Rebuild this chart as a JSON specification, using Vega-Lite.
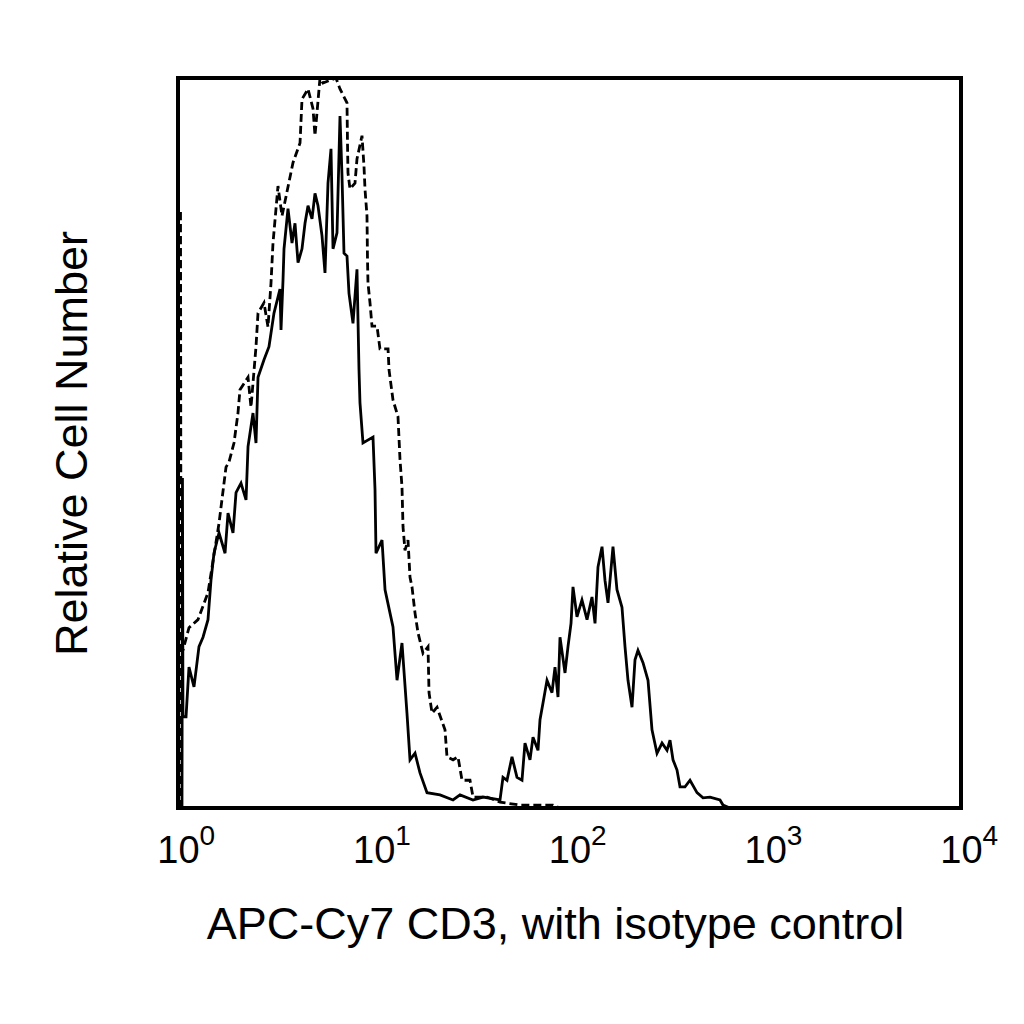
{
  "$schema": "https://vega.github.io/schema/vega-lite/v6.json",
  "autosize": "none",
  "padding": {"left": 178, "top": 78, "right": 63, "bottom": 216},
  "width": 783,
  "height": 730,
  "background": "white",
  "config": {
    "font": "Liberation Sans",
    "view": {"stroke": "black", "strokeWidth": 4}
  },
  "datasets": {
    "hist": [
      {"s": "CD3", "x": 1.048, "y": 0},
      {"s": "CD3", "x": 1.054, "y": 45.2},
      {"s": "CD3", "x": 1.060, "y": 12.5},
      {"s": "CD3", "x": 1.099, "y": 12.5},
      {"s": "CD3", "x": 1.138, "y": 19.3},
      {"s": "CD3", "x": 1.207, "y": 16.6},
      {"s": "CD3", "x": 1.280, "y": 22.1},
      {"s": "CD3", "x": 1.342, "y": 23.4},
      {"s": "CD3", "x": 1.423, "y": 25.8},
      {"s": "CD3", "x": 1.474, "y": 31.2},
      {"s": "CD3", "x": 1.527, "y": 34.9},
      {"s": "CD3", "x": 1.620, "y": 37.7},
      {"s": "CD3", "x": 1.739, "y": 34.9},
      {"s": "CD3", "x": 1.801, "y": 40.4},
      {"s": "CD3", "x": 1.910, "y": 37.7},
      {"s": "CD3", "x": 1.979, "y": 43.2},
      {"s": "CD3", "x": 2.098, "y": 44.5},
      {"s": "CD3", "x": 2.226, "y": 42.2},
      {"s": "CD3", "x": 2.279, "y": 49.5},
      {"s": "CD3", "x": 2.416, "y": 54.1},
      {"s": "CD3", "x": 2.503, "y": 50.0},
      {"s": "CD3", "x": 2.563, "y": 59.0},
      {"s": "CD3", "x": 2.750, "y": 61.4},
      {"s": "CD3", "x": 2.916, "y": 63.2},
      {"s": "CD3", "x": 3.093, "y": 67.8},
      {"s": "CD3", "x": 3.242, "y": 70.0},
      {"s": "CD3", "x": 3.319, "y": 71.1},
      {"s": "CD3", "x": 3.359, "y": 65.5},
      {"s": "CD3", "x": 3.439, "y": 72.3},
      {"s": "CD3", "x": 3.480, "y": 76.6},
      {"s": "CD3", "x": 3.647, "y": 82.1},
      {"s": "CD3", "x": 3.823, "y": 77.4},
      {"s": "CD3", "x": 3.960, "y": 80.1},
      {"s": "CD3", "x": 4.103, "y": 74.7},
      {"s": "CD3", "x": 4.300, "y": 76.6},
      {"s": "CD3", "x": 4.455, "y": 80.1},
      {"s": "CD3", "x": 4.615, "y": 82.5},
      {"s": "CD3", "x": 4.837, "y": 80.7},
      {"s": "CD3", "x": 5.010, "y": 84.2},
      {"s": "CD3", "x": 5.190, "y": 82.5},
      {"s": "CD3", "x": 5.440, "y": 78.4},
      {"s": "CD3", "x": 5.636, "y": 73.3},
      {"s": "CD3", "x": 5.838, "y": 85.6},
      {"s": "CD3", "x": 6.048, "y": 90.3},
      {"s": "CD3", "x": 6.192, "y": 76.6},
      {"s": "CD3", "x": 6.490, "y": 78.8},
      {"s": "CD3", "x": 6.723, "y": 94.8},
      {"s": "CD3", "x": 6.883, "y": 86.6},
      {"s": "CD3", "x": 7.047, "y": 76.0},
      {"s": "CD3", "x": 7.300, "y": 75.6},
      {"s": "CD3", "x": 7.474, "y": 70.5},
      {"s": "CD3", "x": 7.834, "y": 66.4},
      {"s": "CD3", "x": 8.210, "y": 73.8},
      {"s": "CD3", "x": 8.406, "y": 60.1},
      {"s": "CD3", "x": 8.505, "y": 55.5},
      {"s": "CD3", "x": 8.811, "y": 50.0},
      {"s": "CD3", "x": 9.912, "y": 50.8},
      {"s": "CD3", "x": 10.15, "y": 43.6},
      {"s": "CD3", "x": 10.27, "y": 34.9},
      {"s": "CD3", "x": 11.02, "y": 36.7},
      {"s": "CD3", "x": 11.42, "y": 29.9},
      {"s": "CD3", "x": 12.11, "y": 26.7},
      {"s": "CD3", "x": 12.54, "y": 24.8},
      {"s": "CD3", "x": 13.15, "y": 17.5},
      {"s": "CD3", "x": 13.94, "y": 22.6},
      {"s": "CD3", "x": 14.78, "y": 13.0},
      {"s": "CD3", "x": 15.32, "y": 6.6},
      {"s": "CD3", "x": 16.25, "y": 7.5},
      {"s": "CD3", "x": 17.23, "y": 4.8},
      {"s": "CD3", "x": 18.71, "y": 2.1},
      {"s": "CD3", "x": 21.80, "y": 1.8},
      {"s": "CD3", "x": 25.41, "y": 1.1},
      {"s": "CD3", "x": 27.58, "y": 1.8},
      {"s": "CD3", "x": 32.14, "y": 1.1},
      {"s": "CD3", "x": 36.15, "y": 1.5},
      {"s": "CD3", "x": 44.16, "y": 1.1},
      {"s": "CD3", "x": 45.74, "y": 4.2},
      {"s": "CD3", "x": 47.94, "y": 3.8},
      {"s": "CD3", "x": 50.84, "y": 7.0},
      {"s": "CD3", "x": 53.92, "y": 4.2},
      {"s": "CD3", "x": 57.19, "y": 3.8},
      {"s": "CD3", "x": 59.24, "y": 8.9},
      {"s": "CD3", "x": 62.84, "y": 6.6},
      {"s": "CD3", "x": 65.10, "y": 9.7},
      {"s": "CD3", "x": 69.04, "y": 7.9},
      {"s": "CD3", "x": 70.69, "y": 12.1},
      {"s": "CD3", "x": 73.22, "y": 14.4},
      {"s": "CD3", "x": 76.75, "y": 17.5},
      {"s": "CD3", "x": 81.39, "y": 15.8},
      {"s": "CD3", "x": 84.32, "y": 19.3},
      {"s": "CD3", "x": 87.35, "y": 15.2},
      {"s": "CD3", "x": 89.43, "y": 23.4},
      {"s": "CD3", "x": 94.85, "y": 18.5},
      {"s": "CD3", "x": 98.25, "y": 22.1},
      {"s": "CD3", "x": 101.8, "y": 25.3},
      {"s": "CD3", "x": 104.2, "y": 30.3},
      {"s": "CD3", "x": 109.2, "y": 26.2},
      {"s": "CD3", "x": 115.8, "y": 28.5},
      {"s": "CD3", "x": 122.9, "y": 25.8},
      {"s": "CD3", "x": 130.3, "y": 28.9},
      {"s": "CD3", "x": 135.0, "y": 25.3},
      {"s": "CD3", "x": 139.8, "y": 33.0},
      {"s": "CD3", "x": 146.6, "y": 35.8},
      {"s": "CD3", "x": 151.8, "y": 31.2},
      {"s": "CD3", "x": 157.3, "y": 28.1},
      {"s": "CD3", "x": 166.8, "y": 35.8},
      {"s": "CD3", "x": 174.8, "y": 29.9},
      {"s": "CD3", "x": 185.4, "y": 27.5},
      {"s": "CD3", "x": 192.1, "y": 22.1},
      {"s": "CD3", "x": 199.0, "y": 17.5},
      {"s": "CD3", "x": 208.6, "y": 13.8},
      {"s": "CD3", "x": 216.1, "y": 20.3},
      {"s": "CD3", "x": 223.8, "y": 21.6},
      {"s": "CD3", "x": 237.4, "y": 19.9},
      {"s": "CD3", "x": 251.8, "y": 17.5},
      {"s": "CD3", "x": 263.9, "y": 10.7},
      {"s": "CD3", "x": 279.9, "y": 7.5},
      {"s": "CD3", "x": 296.9, "y": 8.9},
      {"s": "CD3", "x": 314.9, "y": 7.9},
      {"s": "CD3", "x": 326.2, "y": 9.3},
      {"s": "CD3", "x": 337.9, "y": 6.6},
      {"s": "CD3", "x": 354.2, "y": 5.2},
      {"s": "CD3", "x": 366.9, "y": 2.9},
      {"s": "CD3", "x": 389.1, "y": 2.9},
      {"s": "CD3", "x": 412.7, "y": 3.8},
      {"s": "CD3", "x": 448.1, "y": 2.1},
      {"s": "CD3", "x": 480.9, "y": 1.4},
      {"s": "CD3", "x": 522.2, "y": 1.5},
      {"s": "CD3", "x": 587.2, "y": 1.1},
      {"s": "CD3", "x": 608.3, "y": 0.4},
      {"s": "CD3", "x": 660.4, "y": 0},
      {"s": "Isotype", "x": 1.024, "y": 0},
      {"s": "Isotype", "x": 1.030, "y": 81.9},
      {"s": "Isotype", "x": 1.036, "y": 23.0},
      {"s": "Isotype", "x": 1.060, "y": 21.6},
      {"s": "Isotype", "x": 1.138, "y": 24.7},
      {"s": "Isotype", "x": 1.265, "y": 25.8},
      {"s": "Isotype", "x": 1.423, "y": 29.5},
      {"s": "Isotype", "x": 1.620, "y": 39.0},
      {"s": "Isotype", "x": 1.759, "y": 46.7},
      {"s": "Isotype", "x": 1.822, "y": 47.4},
      {"s": "Isotype", "x": 1.932, "y": 50.0},
      {"s": "Isotype", "x": 2.025, "y": 54.1},
      {"s": "Isotype", "x": 2.073, "y": 57.3},
      {"s": "Isotype", "x": 2.279, "y": 59.0},
      {"s": "Isotype", "x": 2.360, "y": 54.9},
      {"s": "Isotype", "x": 2.503, "y": 63.2},
      {"s": "Isotype", "x": 2.563, "y": 67.8},
      {"s": "Isotype", "x": 2.750, "y": 69.2},
      {"s": "Isotype", "x": 2.882, "y": 65.9},
      {"s": "Isotype", "x": 2.986, "y": 71.9},
      {"s": "Isotype", "x": 3.057, "y": 77.4},
      {"s": "Isotype", "x": 3.242, "y": 85.2},
      {"s": "Isotype", "x": 3.399, "y": 81.1},
      {"s": "Isotype", "x": 3.868, "y": 88.4},
      {"s": "Isotype", "x": 4.201, "y": 91.1},
      {"s": "Isotype", "x": 4.300, "y": 97.1},
      {"s": "Isotype", "x": 4.615, "y": 98.5},
      {"s": "Isotype", "x": 4.894, "y": 95.8},
      {"s": "Isotype", "x": 5.010, "y": 92.1},
      {"s": "Isotype", "x": 5.314, "y": 100},
      {"s": "Isotype", "x": 5.505, "y": 99.3},
      {"s": "Isotype", "x": 5.976, "y": 99.7},
      {"s": "Isotype", "x": 6.414, "y": 100},
      {"s": "Isotype", "x": 6.723, "y": 98.5},
      {"s": "Isotype", "x": 7.300, "y": 96.6},
      {"s": "Isotype", "x": 7.343, "y": 91.1},
      {"s": "Isotype", "x": 7.386, "y": 87.0},
      {"s": "Isotype", "x": 7.562, "y": 84.8},
      {"s": "Isotype", "x": 8.020, "y": 85.6},
      {"s": "Isotype", "x": 8.210, "y": 88.9},
      {"s": "Isotype", "x": 8.709, "y": 92.1},
      {"s": "Isotype", "x": 8.916, "y": 87.9},
      {"s": "Isotype", "x": 9.021, "y": 84.8},
      {"s": "Isotype", "x": 9.236, "y": 81.1},
      {"s": "Isotype", "x": 9.290, "y": 75.2},
      {"s": "Isotype", "x": 9.345, "y": 71.9},
      {"s": "Isotype", "x": 9.569, "y": 69.2},
      {"s": "Isotype", "x": 9.796, "y": 66.0},
      {"s": "Isotype", "x": 10.39, "y": 66.0},
      {"s": "Isotype", "x": 10.76, "y": 62.9},
      {"s": "Isotype", "x": 11.83, "y": 62.9},
      {"s": "Isotype", "x": 11.97, "y": 60.0},
      {"s": "Isotype", "x": 12.54, "y": 55.9},
      {"s": "Isotype", "x": 13.30, "y": 53.6},
      {"s": "Isotype", "x": 13.62, "y": 47.7},
      {"s": "Isotype", "x": 13.94, "y": 44.0},
      {"s": "Isotype", "x": 14.11, "y": 38.5},
      {"s": "Isotype", "x": 14.44, "y": 35.3},
      {"s": "Isotype", "x": 14.96, "y": 36.7},
      {"s": "Isotype", "x": 15.32, "y": 31.6},
      {"s": "Isotype", "x": 15.68, "y": 30.3},
      {"s": "Isotype", "x": 16.25, "y": 26.7},
      {"s": "Isotype", "x": 16.83, "y": 24.0},
      {"s": "Isotype", "x": 17.85, "y": 21.2},
      {"s": "Isotype", "x": 18.93, "y": 22.1},
      {"s": "Isotype", "x": 19.16, "y": 15.8},
      {"s": "Isotype", "x": 19.85, "y": 13.0},
      {"s": "Isotype", "x": 21.05, "y": 13.8},
      {"s": "Isotype", "x": 23.12, "y": 10.7},
      {"s": "Isotype", "x": 23.67, "y": 7.0},
      {"s": "Isotype", "x": 25.41, "y": 6.6},
      {"s": "Isotype", "x": 26.94, "y": 7.0},
      {"s": "Isotype", "x": 28.24, "y": 3.8},
      {"s": "Isotype", "x": 31.02, "y": 3.8},
      {"s": "Isotype", "x": 32.14, "y": 1.5},
      {"s": "Isotype", "x": 37.89, "y": 1.5},
      {"s": "Isotype", "x": 44.16, "y": 0.8},
      {"s": "Isotype", "x": 55.86, "y": 0.4},
      {"s": "Isotype", "x": 82.35, "y": 0.4},
      {"s": "Isotype", "x": 89.43, "y": 0}
    ]
  },
  "data": {"name": "hist"},
  "resolve": {"axis": {"x": "independent"}},
  "layer": [
    {
      "transform": [{"filter": "datum.s === 'CD3'"}],
      "mark": {"type": "line", "color": "black", "strokeWidth": 2.8, "clip": true},
      "encoding": {
        "x": {
          "field": "x",
          "type": "quantitative",
          "scale": {"type": "log", "domain": [1, 10000], "nice": false},
          "axis": {
            "orient": "bottom",
            "values": [1, 10, 100, 1000, 10000],
            "labelExpr": "'10'",
            "labelFontSize": 38,
            "labelColor": "black",
            "labelPadding": 24,
            "labelFlush": false,
            "labelOverlap": false,
            "ticks": false,
            "domain": false,
            "grid": false,
            "title": "APC-Cy7 CD3, with isotype control",
            "titleFontSize": 45,
            "titleFontWeight": "normal",
            "titleColor": "black",
            "titlePadding": 32,
            "titleX": 377
          }
        },
        "y": {
          "field": "y",
          "type": "quantitative",
          "scale": {"domain": [0, 100], "nice": false},
          "axis": {
            "labels": false,
            "ticks": false,
            "domain": false,
            "grid": false,
            "title": "Relative Cell Number",
            "titleFontSize": 45,
            "titleFontWeight": "normal",
            "titleColor": "black",
            "titlePadding": 83
          }
        }
      }
    },
    {
      "transform": [{"filter": "datum.s === 'Isotype'"}],
      "mark": {"type": "line", "color": "black", "strokeWidth": 2.8, "strokeDash": [8, 4], "clip": true},
      "encoding": {
        "x": {
          "field": "x",
          "type": "quantitative",
          "scale": {"type": "log", "domain": [1, 10000], "nice": false},
          "axis": {
            "orient": "bottom",
            "values": [1, 10, 100, 1000, 10000],
            "labelExpr": "format(round(log(datum.value) / LN10), 'd')",
            "labelFontSize": 28,
            "labelColor": "black",
            "labelAlign": "left",
            "labelOffset": 21,
            "labelPadding": 14,
            "labelFlush": false,
            "labelOverlap": false,
            "ticks": false,
            "domain": false,
            "grid": false,
            "title": null
          }
        },
        "y": {
          "field": "y",
          "type": "quantitative",
          "scale": {"domain": [0, 100], "nice": false},
          "axis": {
            "labels": false,
            "ticks": false,
            "domain": false,
            "grid": false,
            "title": "Relative Cell Number",
            "titleFontSize": 45,
            "titleFontWeight": "normal",
            "titleColor": "black",
            "titlePadding": 83
          }
        }
      }
    }
  ]
}
